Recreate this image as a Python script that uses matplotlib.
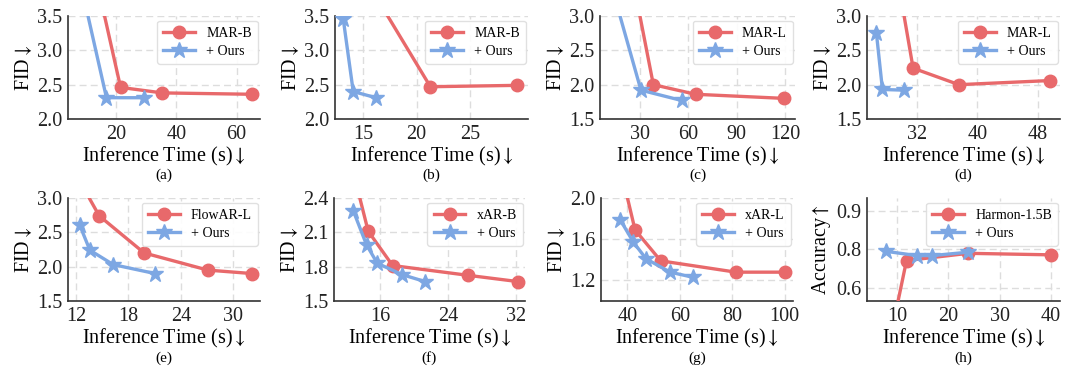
import matplotlib
matplotlib.use("Agg")
import matplotlib.pyplot as plt

plt.rcParams['font.family'] = ['Liberation Serif', 'DejaVu Serif']
plt.rcParams['mathtext.fontset'] = 'stix'

RED = "#E8696B"
BLUE = "#7DA7E3"

# ---------------- data ----------------
# (a) MAR-B
a_base_x = [11.0, 21.4, 35.3, 65.2]
a_base_y = [4.49, 2.46, 2.38, 2.36]
a_ours_x = [7.0, 16.7, 29.2]
a_ours_y = [4.19, 2.31, 2.31]
# (b) MAR-B
b_base_x = [15.0, 21.3, 29.45]
b_base_y = [4.09, 2.47, 2.49]
b_ours_x = [13.13, 14.06, 16.19]
b_ours_y = [3.45, 2.40, 2.31]
# (c) MAR-L
c_base_x = [20.0, 38.3, 64.5, 119.6]
c_base_y = [4.20, 2.00, 1.86, 1.80]
c_ours_x = [11.0, 30.6, 55.8]
c_ours_y = [3.55, 1.92, 1.77]
# (d) MAR-L
d_base_x = [29.3, 31.47, 37.55, 49.65]
d_base_y = [3.62, 2.24, 2.00, 2.06]
d_ours_x = [26.6, 27.4, 30.23]
d_ours_y = [2.75, 1.93, 1.92]
# (e) FlowAR-L
e_base_x = [12.2, 14.67, 19.8, 27.08, 32.1]
e_base_y = [3.30, 2.74, 2.20, 1.95, 1.90]
e_ours_x = [12.46, 13.6, 16.27, 21.05]
e_ours_y = [2.60, 2.24, 2.03, 1.90]
# (f) xAR-B
f_base_x = [11.6, 14.62, 17.49, 26.3, 32.2]
f_base_y = [3.00, 2.11, 1.81, 1.725, 1.67]
f_ours_x = [12.86, 14.43, 15.69, 18.63, 21.3]
f_ours_y = [2.29, 1.99, 1.83, 1.73, 1.67]
# (g) xAR-L
g_base_x = [33.2, 42.9, 52.7, 81.4, 100.0]
g_base_y = [2.73, 1.69, 1.39, 1.28, 1.28]
g_ours_x = [37.2, 42.3, 47.1, 56.25, 65.1]
g_ours_y = [1.79, 1.57, 1.41, 1.28, 1.23]
# (h) Harmon-1.5B
h_base_x = [9.5, 11.84, 23.9, 40.0]
h_base_y = [0.62, 0.771, 0.790, 0.786]
h_ours_x = [7.93, 13.9, 16.85, 23.9]
h_ours_y = [0.795, 0.784, 0.784, 0.793]

base_names = ["MAR-B", "MAR-B", "MAR-L", "MAR-L", "FlowAR-L", "xAR-B", "xAR-L", "Harmon-1.5B"]
ours_name = "+ Ours"
captions = ["(a)", "(b)", "(c)", "(d)", "(e)", "(f)", "(g)", "(h)"]
ylabels = [r"FID$\downarrow$"] * 7 + [r"Accuracy$\uparrow$"]
xlabel = r"Inference Time (s)$\downarrow$"

panels = [
    (a_base_x, a_base_y, a_ours_x, a_ours_y),
    (b_base_x, b_base_y, b_ours_x, b_ours_y),
    (c_base_x, c_base_y, c_ours_x, c_ours_y),
    (d_base_x, d_base_y, d_ours_x, d_ours_y),
    (e_base_x, e_base_y, e_ours_x, e_ours_y),
    (f_base_x, f_base_y, f_ours_x, f_ours_y),
    (g_base_x, g_base_y, g_ours_x, g_ours_y),
    (h_base_x, h_base_y, h_ours_x, h_ours_y),
]

xlims = [(3.9, 67.8), (12.35, 30.46), (5.2, 126.2), (25.35, 50.97),
         (11.1, 33.05), (10.6, 33.06), (29.9, 103.2), (4.13, 41.8)]
ylims = [(2.0, 3.5), (2.0, 3.5), (1.5, 3.0), (1.5, 3.0),
         (1.5, 3.0), (1.5, 2.4), (1.0, 2.0), (0.665, 0.935)]
xticks = [[20, 40, 60], [15, 20, 25], [30, 60, 90, 120], [32, 40, 48],
          [12, 18, 24, 30], [16, 24, 32], [40, 60, 80, 100], [10, 20, 30, 40]]
yticks = [[2.0, 2.5, 3.0, 3.5], [2.0, 2.5, 3.0, 3.5], [1.5, 2.0, 2.5, 3.0], [1.5, 2.0, 2.5, 3.0],
          [1.5, 2.0, 2.5, 3.0], [1.5, 1.8, 2.1, 2.4], [1.2, 1.6, 2.0], [0.7, 0.8, 0.9]]
yticklabels = [None] * 7 + [["0.6", "0.8", "0.9"]]

# ---------------- layout ----------------
W, H = 1080, 375
fig = plt.figure(figsize=(W / 100, H / 100), dpi=100)

lefts = [68, 335, 600, 867, 68, 334, 601, 867]
rights = [260, 528, 795, 1060, 260, 525, 793, 1060]
tops = [16] * 4 + [198] * 4
bottoms = [119] * 4 + [301] * 4
cap_y = [175] * 4 + [358] * 4

for i, (bx, by, ox, oy) in enumerate(panels):
    l, r, t, b = lefts[i], rights[i], tops[i], bottoms[i]
    ax = fig.add_axes([l / W, 1 - b / H, (r - l) / W, (b - t) / H])
    ax.plot(bx, by, color=RED, lw=2.4, marker="o", ms=9, label=base_names[i], zorder=3)
    ax.plot(ox, oy, color=BLUE, lw=2.4, marker="*", ms=12, label=ours_name, zorder=4)
    ax.set_xlim(*xlims[i])
    ax.set_ylim(*ylims[i])
    ax.set_xticks(xticks[i])
    ax.set_yticks(yticks[i])
    if yticklabels[i] is not None:
        ax.set_yticklabels(yticklabels[i])
    else:
        ax.set_yticklabels([f"{v:.1f}" for v in yticks[i]])
    ax.grid(True, ls=(0, (5, 3)), color="#dddddd", lw=1.0)
    ax.set_axisbelow(True)
    for s in ["top", "right"]:
        ax.spines[s].set_visible(False)
    for s in ["left", "bottom"]:
        ax.spines[s].set_color("#333333")
        ax.spines[s].set_linewidth(1.2)
    ax.tick_params(length=0, labelsize=14.5, pad=4, colors="#222222")
    ax.set_xlabel(xlabel, fontsize=14.5, labelpad=1)
    ax.set_ylabel(ylabels[i], fontsize=14.5, labelpad=2)
    leg = ax.legend(loc="upper right", fontsize=10, frameon=True, fancybox=True,
                    handlelength=2.3, borderpad=0.45, labelspacing=0.35,
                    bbox_to_anchor=(0.99, 0.955), borderaxespad=0.0, framealpha=0.9)
    leg.get_frame().set_edgecolor("#dddddd")
    leg.get_frame().set_linewidth(1.0)
    fig.text((l + r) / 2 / W, 1 - cap_y[i] / H, captions[i], ha="center", va="center", fontsize=11)

fig.savefig("out.png", dpi=100)
